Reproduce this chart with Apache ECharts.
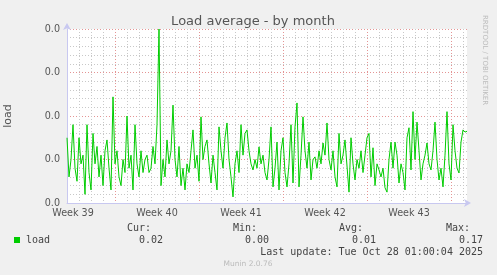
<!DOCTYPE html>
<html><head><meta charset="utf-8">
<script src="https://cdn.jsdelivr.net/npm/echarts@6/dist/echarts.min.js"></script>
<style>html,body{margin:0;padding:0;background:#f0f0f0;}#c{width:497px;height:275px;}</style>
</head><body><div id="c"></div>
<script>
// ---- data ----
var loadValues = [
 0.015,0.006,0.010,0.018,0.008,0.005,0.015,0.009,0.011,0.002,
 0.018,0.007,0.003,0.016,0.009,0.013,0.006,0.011,0.004,0.012,
 0.0145,0.008,0.003,0.0244,0.009,0.012,0.006,0.004,0.010,0.007,
 0.020,0.008,0.011,0.003,0.018,0.009,0.006,0.012,0.007,0.010,
 0.011,0.007,0.008,0.013,0.009,0.018,0.040,0.004,0.010,0.006,
 0.0145,0.009,0.012,0.0225,0.010,0.006,0.013,0.004,0.008,0.003,
 0.009,0.007,0.012,0.0168,0.008,0.011,0.005,0.0198,0.010,0.013,
 0.0145,0.009,0.0046,0.011,0.007,0.003,0.0175,0.012,0.008,0.015,
 0.0184,0.010,0.006,0.0014,0.009,0.012,0.007,0.018,0.011,0.016,
 0.0168,0.012,0.009,0.0076,0.010,0.008,0.0129,0.009,0.011,0.007,
 0.0053,0.010,0.0175,0.0037,0.008,0.014,0.003,0.012,0.015,0.007,
 0.0037,0.009,0.018,0.0046,0.0175,0.023,0.0037,0.011,0.0198,0.012,
 0.008,0.014,0.0053,0.010,0.0106,0.008,0.012,0.009,0.0138,0.011,
 0.0184,0.010,0.0076,0.012,0.006,0.0037,0.016,0.009,0.011,0.0145,
 0.0145,0.0025,0.015,0.009,0.0053,0.010,0.008,0.012,0.007,0.011,
 0.015,0.016,0.006,0.0127,0.004,0.009,0.0076,0.006,0.008,0.0035,
 0.0025,0.010,0.014,0.008,0.014,0.011,0.0046,0.009,0.007,0.003,
 0.015,0.0173,0.0076,0.021,0.010,0.0186,0.012,0.0053,0.009,0.011,
 0.0138,0.009,0.0076,0.012,0.0186,0.010,0.0053,0.008,0.0037,0.011,
 0.021,0.009,0.0053,0.018,0.012,0.008,0.0069,0.014,0.0168,0.0163,
 0.0165
];
var weekLabels = ['Week 39','Week 40','Week 41','Week 42','Week 43'];
var weekLabelIndex = [3, 45, 87, 129, 171];   // mid-week slots (4h slots)
var weekStartIndex = [24, 66, 108, 150, 192]; // Monday 00:00 slots
var slotsPerDay = 6;
var yTicks = [0, 0.01, 0.02, 0.03, 0.04];
var statLabels = ['Cur:', 'Min:', 'Avg:', 'Max:'];
var statValues = ['0.02', '0.00', '0.01', '0.17'];
var seriesName = 'load';
var lastUpdate = 'Last update: Tue Oct 28 01:00:04 2025';

// ---- build ----
var categories = loadValues.map(function (v, i) {
  var k = weekLabelIndex.indexOf(i);
  return k >= 0 ? weekLabels[k] : '';
});
var axisCol = '#c8c8f0';
var mono = '"DejaVu Sans Mono", monospace';
var sans = '"DejaVu Sans", sans-serif';
var statRight = [151, 257, 363, 470];
var valRight = [163, 269, 376, 483];
var graphics = [
  {type:'rect', shape:{x:14,y:237,width:6,height:6}, style:{fill:'#00cc00'}},
  {type:'text', x:26, y:240, style:{text:seriesName, font:'10px '+mono, fill:'#444', textVerticalAlign:'middle'}},
  {type:'text', x:483, y:252, style:{text:lastUpdate, font:'10px '+mono, fill:'#444', textAlign:'right', textVerticalAlign:'middle'}},
  {type:'text', x:248, y:264, style:{text:'Munin 2.0.76', font:'7.5px '+sans, fill:'#bbb', textAlign:'center', textVerticalAlign:'middle'}},
  {type:'text', x:485, y:15, rotation:-Math.PI/2, style:{text:'RRDTOOL / TOBI OETIKER', font:'7px '+sans, fill:'#bbb', textAlign:'left', textVerticalAlign:'middle'}}
];
statLabels.forEach(function (s, i) {
  graphics.push({type:'text', x:statRight[i], y:228, style:{text:s, font:'10px '+mono, fill:'#444', textAlign:'right', textVerticalAlign:'middle'}});
  graphics.push({type:'text', x:valRight[i], y:240, style:{text:statValues[i], font:'10px '+mono, fill:'#444', textAlign:'right', textVerticalAlign:'middle'}});
});

var chart = echarts.init(document.getElementById('c'), null, {renderer:'canvas'});
chart.setOption({
  animation: false,
  backgroundColor: '#f0f0f0',
  title: {text:'Load average - by month', left:248, textAlign:'center', top:10,
    textStyle:{fontFamily:sans, fontSize:13, fontWeight:'normal', color:'#555'}},
  grid: {left:67, right:30, top:29, bottom:72, show:true, backgroundColor:'#ffffff', borderWidth:0,
    containLabel:false, outerBoundsMode:'none'},
  xAxis: [
    {type:'category', data:categories, boundaryGap:false, show:true,
     axisLine:{show:false}, axisTick:{show:false}, axisLabel:{show:false},
     splitLine:{show:true, interval:function(i){return i % slotsPerDay === 0 && weekStartIndex.indexOf(i) < 0;},
       lineStyle:{color:'#c8c8c8', type:[1,2], width:1}}},
    {type:'category', data:categories, boundaryGap:false, position:'bottom',
     axisLine:{show:true, lineStyle:{color:axisCol, width:1}, symbol:['none','arrow'], symbolSize:[6,7], symbolOffset:[0,4]},
     axisTick:{show:false},
     axisLabel:{show:true, interval:function(i){return weekLabelIndex.indexOf(i) >= 0;}, color:'#555', fontFamily:sans, fontSize:9.6, margin:5},
     splitLine:{show:true, interval:function(i){return weekStartIndex.indexOf(i) >= 0;},
       lineStyle:{color:'#e49494', type:[1,2], width:1}}}
  ],
  yAxis: {type:'value', min:yTicks[0], max:yTicks[yTicks.length-1], interval:0.01,
    name:'load', nameLocation:'middle', nameGap:53, nameRotate:90,
    nameTextStyle:{color:'#555', fontFamily:sans, fontSize:11},
    axisLine:{show:true, lineStyle:{color:axisCol, width:1}, symbol:['none','arrow'], symbolSize:[6,7], symbolOffset:[0,6]},
    axisTick:{show:false},
    axisLabel:{color:'#555', fontFamily:sans, fontSize:9.6, margin:7, formatter:function(v){return v.toFixed(1);}},
    splitLine:{show:true, lineStyle:{color:'#e49494', type:[1,2], width:1}},
    minorTick:{show:false, splitNumber:5},
    minorSplitLine:{show:true, lineStyle:{color:'#c8c8c8', type:[1,2], width:1}}
  },
  series: [{name:seriesName, type:'line', xAxisIndex:1, data:loadValues, showSymbol:false,
    lineStyle:{color:'#00cc00', width:1}, itemStyle:{color:'#00cc00'}}],
  graphic: graphics
});
</script></body></html>
